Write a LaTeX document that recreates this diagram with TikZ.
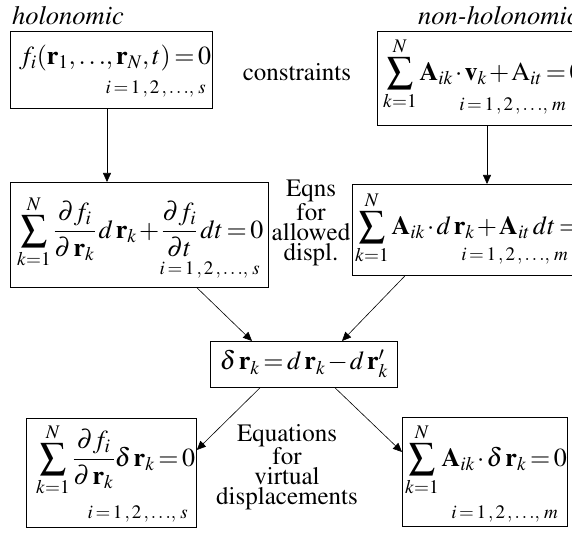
\documentclass[tikz,border=0pt]{standalone}
\usepackage[T1]{fontenc}
\usepackage{mathptmx}
\usetikzlibrary{arrows.meta,calc}
\thickmuskip=2.5mu plus 1mu
\medmuskip=1.5mu plus 1mu
\begin{document}
\begin{tikzpicture}[x=1pt,y=-1pt,
  box/.style={draw,line width=0.8pt,inner sep=0pt,anchor=north west},
  conn/.style={-{Triangle[length=9pt,width=8pt]},line width=0.6pt},
  eqn/.style={inner sep=0pt,font=\fontsize{26}{30}\selectfont},
  sub/.style={inner sep=0pt,font=\fontsize{19}{20}\selectfont},
  lbl/.style={inner sep=0pt,font=\fontsize{25}{20}\selectfont,align=center},
  ilbl/.style={inner sep=0pt,font=\fontsize{26.5}{27}\selectfont\itshape}]
\useasboundingbox (0,0) rectangle (572,534);
\clip (0,0) rectangle (572,534);
% boxes
\node[box,minimum width=202pt,minimum height=77pt] (b1) at (10,31) {};
\node[box,minimum width=230pt,minimum height=94pt] (b2) at (377,31) {};
\node[box,minimum width=258pt,minimum height=105pt] (b3) at (10,182) {};
\node[box,minimum width=250pt,minimum height=91pt] (b4) at (352,184) {};
\node[box,minimum width=187pt,minimum height=46pt] (b5) at (210,341) {};
\node[box,minimum width=170pt,minimum height=109pt] (b6) at (26,418) {};
\node[box,minimum width=165pt,minimum height=109pt] (b7) at (402,417) {};
% contents
\node[eqn,anchor=west] (e1) at (19,58) {$f_i(\mathbf r_1,{\ldots},\mathbf r_N,t)=0$};
\node[sub,anchor=east] (s1) at (206,89) {$i=1\,,2\,,{\ldots},\,s$};
\node[eqn,anchor=west] (e2) at (383,74) {$\displaystyle\sum_{k=1}^{N}\mathbf A_{ik}\cdot\mathbf v_k+\mathrm A_{it}=0$};
\node[sub,anchor=east] (s2) at (566,106) {$i=1\,,2\,,{\ldots},\,m$};
\node[eqn,anchor=west] (e3) at (17,232) {$\displaystyle\sum_{k=1}^{N}\frac{\partial f_i}{\partial\,\mathbf r_k}\,d\,\mathbf r_k+\frac{\partial f_i}{\partial t}\,dt=0$};
\node[sub,anchor=east] (s3) at (260,270) {$i=1\,,2\,,{\ldots},\,s$};
\node[eqn,anchor=west] (e4) at (355,228) {$\displaystyle\sum_{k=1}^{N}\mathbf A_{ik}\cdot d\,\mathbf r_k+\mathbf A_{it}\,dt=0$};
\node[sub,anchor=east] (s4) at (568,256) {$i=1\,,2\,,{\ldots},\,m$};
\node[eqn] (e5) at (304,364) {$\delta\,\mathbf r_k=d\,\mathbf r_k-d\,\mathbf r'_k$};
\node[eqn,anchor=west] (e6) at (36,460) {$\displaystyle\sum_{k=1}^{N}\frac{\partial f_i}{\partial\,\mathbf r_k}\delta\,\mathbf r_k=0$};
\node[sub,anchor=east] (s6) at (188,514) {$i=1\,,2\,,{\ldots},\,s$};
\node[eqn,anchor=west] (e7) at (405,460) {$\displaystyle\sum_{k=1}^{N}\mathbf A_{ik}\cdot\delta\,\mathbf r_k=0$};
\node[sub,anchor=east] (s7) at (558,514) {$i=1\,,2\,,{\ldots},\,m$};
% labels
\node[ilbl] (l1) at (68,16) {holonomic};
\node[ilbl,anchor=west] (l2) at (418,16) {non-holonomic};
\node[lbl] (l3) at (297,72) {constraints};
\node[lbl] (l4) at (311,223) {Eqns\\for\\allowed\\displ.};
\node[lbl] (l5) at (287,467) {Equations\\for\\virtual\\displacements};
% connectors
\coordinate (p1) at ($(b1.south west)+(97,0)$);
\draw[conn] (p1) -- (p1 |- b3.north);
\coordinate (p2) at ($(b2.south west)+(110,0)$);
\draw[conn] (p2) -- (p2 |- b4.north);
\draw[conn] ($(b3.south west)+(187,0)$) -- ($(b5.north west)+(42,0)$);
\draw[conn] ($(b4.south west)+(53,0)$) -- ($(b5.north west)+(132,0)$);
\draw[conn] ($(b5.south west)+(50,0)$) -- ($(b6.north east)+(0,32)$);
\draw[conn] ($(b5.south west)+(125,0)$) -- ($(b7.north west)+(0,35)$);
\end{tikzpicture}
\end{document}
